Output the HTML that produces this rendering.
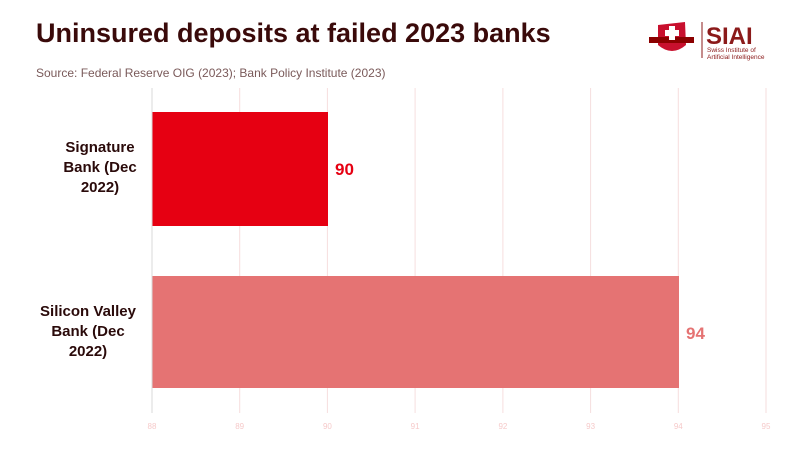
<!DOCTYPE html>
<html><head><style>
body{margin:0;width:800px;height:450px;background:#fff;font-family:"Liberation Sans",sans-serif;position:relative;overflow:hidden}
.t{position:absolute;left:36px;top:18px;font-size:27px;font-weight:bold;color:#3a0a0a}
.s{position:absolute;left:36px;top:66px;font-size:12px;color:#7a5a5a}
</style></head><body>
<div class="t">Uninsured deposits at failed 2023 banks</div>
<div class="s">Source: Federal Reserve OIG (2023); Bank Policy Institute (2023)</div>
<svg width="800" height="450" style="position:absolute;left:0;top:0">
<g stroke="#f6dede" stroke-width="1">
<line x1="239.7" y1="88" x2="239.7" y2="413"/><line x1="327.4" y1="88" x2="327.4" y2="413"/>
<line x1="415.1" y1="88" x2="415.1" y2="413"/><line x1="502.9" y1="88" x2="502.9" y2="413"/>
<line x1="590.6" y1="88" x2="590.6" y2="413"/><line x1="678.3" y1="88" x2="678.3" y2="413"/>
<line x1="766" y1="88" x2="766" y2="413"/></g>
<line x1="152" y1="88" x2="152" y2="413" stroke="#d8d8d8"/>
<rect x="152.5" y="112" width="175.5" height="114" fill="#e60012"/>
<rect x="152.5" y="276" width="526.5" height="112" fill="#e57373"/>
<text x="335" y="175" font-size="17" font-weight="bold" fill="#e60012">90</text>
<text x="686" y="339" font-size="17" font-weight="bold" fill="#e57373">94</text>
<g font-size="15" font-weight="bold" fill="#2a0a0a" text-anchor="middle">
<text x="100" y="152">Signature</text><text x="100" y="172">Bank (Dec</text><text x="100" y="192">2022)</text>
<text x="88" y="316">Silicon Valley</text><text x="88" y="336">Bank (Dec</text><text x="88" y="356">2022)</text></g>
<g font-size="8" fill="#f6caca" text-anchor="middle">
<text x="152" y="429">88</text><text x="239.7" y="429">89</text><text x="327.4" y="429">90</text><text x="415.1" y="429">91</text><text x="502.9" y="429">92</text><text x="590.6" y="429">93</text><text x="678.3" y="429">94</text><text x="766" y="429">95</text></g>
<path d="M658 25 L685 22 L686 45 Q672 57 658 45 Z" fill="#c8102e"/>
<rect x="649" y="37" width="45" height="6" fill="#8b0000"/>
<rect x="669" y="26" width="6" height="14" fill="#fff"/><rect x="665" y="30" width="14" height="6" fill="#fff"/>
<line x1="702" y1="22" x2="702" y2="58" stroke="#8b1a1a"/>
<text x="706" y="44" font-size="24" font-weight="bold" fill="#8b1a1a">SIAI</text>
<text x="707" y="52" font-size="6.5" fill="#8b1a1a">Swiss Institute of</text>
<text x="707" y="59" font-size="6.5" fill="#8b1a1a">Artificial Intelligence</text>
</svg>
</body></html>
